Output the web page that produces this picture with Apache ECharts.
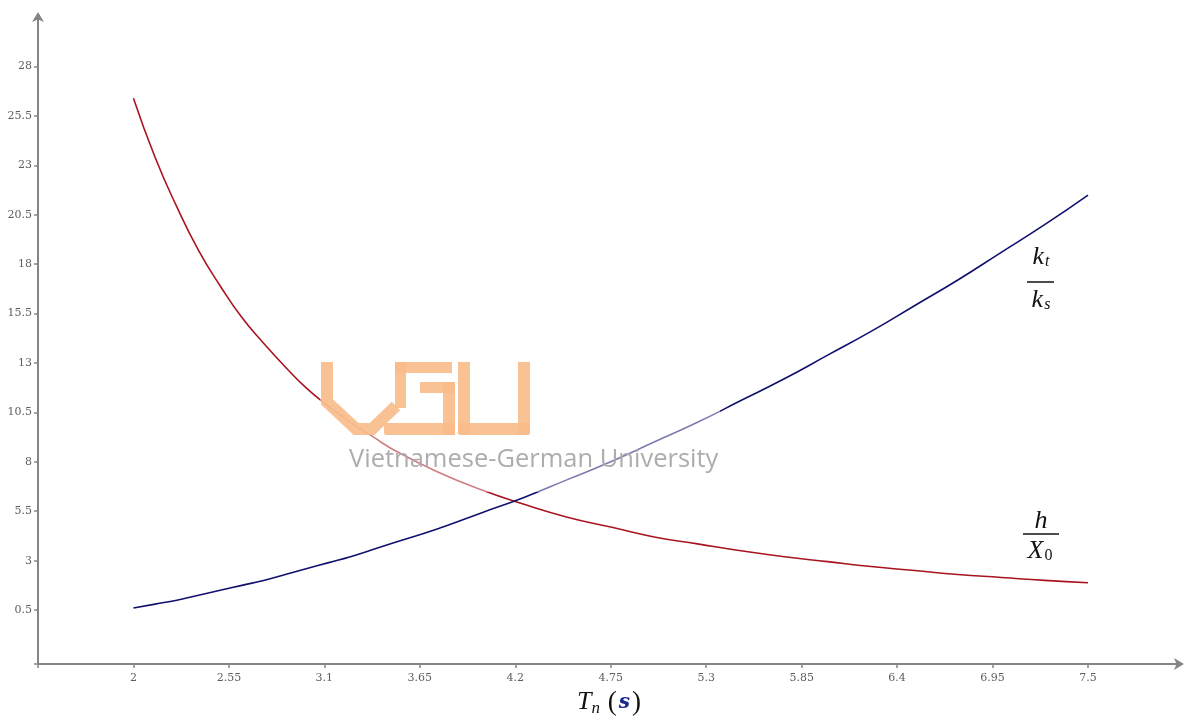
<!DOCTYPE html>
<html>
<head>
<meta charset="utf-8">
<script src="https://cdn.jsdelivr.net/npm/echarts@6/dist/echarts.min.js"></script>
<style>html,body{margin:0;padding:0;background:#fff}#c{width:1190px;height:717px}</style>
</head>
<body>
<div id="c"></div>
<script>
// Data
const tn   = [2, 2.125, 2.25, 2.375, 2.5, 2.625, 2.75, 2.875, 3, 3.125, 3.25, 3.375, 3.5, 3.75, 4, 4.25, 4.5, 4.75, 5, 5.25, 5.5, 5.75, 6, 6.25, 6.5, 6.75, 7, 7.25, 7.5];
const hX0  = [26.4, 23.4, 20.9, 18.7, 16.9, 15.3, 14.0, 12.8, 11.7, 10.8, 10.0, 9.3, 8.6, 7.5, 6.6, 5.85, 5.2, 4.7, 4.2, 3.85, 3.5, 3.2, 2.95, 2.7, 2.5, 2.3, 2.15, 2.0, 1.88];
const ktks = [0.6, 0.8, 1.0, 1.25, 1.5, 1.75, 2.0, 2.3, 2.6, 2.9, 3.2, 3.55, 3.9, 4.6, 5.4, 6.2, 7.1, 8.0, 9.0, 10.0, 11.1, 12.2, 13.4, 14.6, 15.9, 17.2, 18.6, 20.0, 21.5];
const xTicks = [2, 2.55, 3.1, 3.65, 4.2, 4.75, 5.3, 5.85, 6.4, 6.95, 7.5];
const yTicks = [0.5, 3, 5.5, 8, 10.5, 13, 15.5, 18, 20.5, 23, 25.5, 28];

const X_MIN = 1.45, X_MAX = 8.03, Y_MIN = -2.23, Y_MAX = 30.56;

const chart = echarts.init(document.getElementById('c'));
const axisColor = '#858585';
const labelStyle = {color: '#5e5e5e', fontFamily: 'DejaVu Serif', fontSize: 11};
const orange = '#f8bb88';

function rect(x, y, w, h, r) {
  return {type: 'rect', z: 101, shape: {x: x, y: y, width: w, height: h, r: r || 0}, style: {fill: orange, opacity: 0.9}, silent: true};
}

chart.setOption({
  animation: false,
  backgroundColor: '#fff',
  grid: {left: 38, right: 10, top: 16, bottom: 53, containLabel: false, outerBoundsMode: 'none'},
  xAxis: {
    type: 'value', min: X_MIN, max: X_MAX,
    splitLine: {show: false},
    axisLine: {onZero: false, lineStyle: {color: axisColor, width: 2}, symbol: ['none', 'arrow'], symbolSize: [9, 10], symbolOffset: [0, 4]},
    axisTick: {customValues: [X_MIN].concat(xTicks), length: 4, lineStyle: {color: axisColor, width: 1.5}},
    axisLabel: Object.assign({customValues: xTicks, margin: 9}, labelStyle),
    name: '{t|T}{n|n}{sp|  }{p|(}{s|s}{p|)}',
    nameLocation: 'middle',
    nameGap: 24,
    nameTextStyle: {
      rich: {
        t: {fontFamily: 'Liberation Serif', fontStyle: 'italic', fontSize: 26, color: '#111'},
        n: {fontFamily: 'Liberation Serif', fontStyle: 'italic', fontSize: 17, color: '#111', padding: [12, 0, 0, 0]},
        sp: {fontSize: 14},
        p: {fontFamily: 'Liberation Serif', fontSize: 27, color: '#111'},
        s: {fontFamily: 'DejaVu Serif', fontStyle: 'italic', fontWeight: 'bold', fontSize: 20, color: '#1a2a8c', padding: [0, 2, 0, 2]}
      }
    }
  },
  yAxis: {
    type: 'value', min: Y_MIN, max: Y_MAX,
    splitLine: {show: false},
    axisLine: {onZero: false, lineStyle: {color: axisColor, width: 2}, symbol: ['none', 'arrow'], symbolSize: [9, 10], symbolOffset: [0, 4]},
    axisTick: {customValues: [Y_MIN].concat(yTicks), length: 4, lineStyle: {color: axisColor, width: 1.5}},
    axisLabel: Object.assign({customValues: yTicks, margin: 6}, labelStyle)
  },
  series: [
    {type: 'line', name: 'h/X0', smooth: true, showSymbol: false, z: 3,
     lineStyle: {color: '#a8141f', width: 1.6},
     data: tn.map((t, i) => [t, hX0[i]])},
    {type: 'line', name: 'kt/ks', smooth: true, showSymbol: false, z: 3,
     lineStyle: {color: '#10106e', width: 1.6},
     data: tn.map((t, i) => [t, ktks[i]])}
  ],
  graphic: [
    // watermark background veil
    {type: 'rect', z: 100, silent: true, shape: {x: 320, y: 360, width: 400, height: 132}, style: {fill: '#fff', opacity: 0.45}},
    // V
    {type: 'polyline', z: 101, silent: true, shape: {points: [[327, 362], [327, 402], [356, 429], [372, 429], [396, 406]]}, style: {stroke: orange, lineWidth: 12, opacity: 0.9, fill: null, lineJoin: 'miter'}},
    // G
    rect(395, 362, 57, 11), rect(395, 362, 11, 46), rect(384, 423, 71, 12, 2), rect(443, 382, 12, 53), rect(420, 382, 35, 11),
    // U
    rect(458, 362, 12, 73, [0, 0, 0, 3]), rect(518, 362, 12, 73, [0, 0, 3, 0]), rect(458, 423, 72, 12, [0, 0, 3, 3]),
    // watermark text
    {type: 'text', z: 102, silent: true, left: 349, top: 447,
     style: {text: 'Vietnamese-German University', fill: '#a9a9a9', opacity: 0.95, font: '25.5px "Open Sans"'}},
    // kt / ks label
    {type: 'text', z: 110, silent: true, x: 1041, y: 270,
     style: {text: '{i|k}{b|t}', textAlign: 'center', textVerticalAlign: 'bottom',
             rich: {i: {fontFamily: 'Liberation Serif', fontStyle: 'italic', fontSize: 26, fill: '#111'},
                    b: {fontFamily: 'Liberation Serif', fontStyle: 'italic', fontSize: 16, fill: '#111', padding: [10, 0, 0, 1]}}}},
    {type: 'line', z: 110, silent: true, shape: {x1: 1027, y1: 282, x2: 1054, y2: 282}, style: {stroke: '#111', lineWidth: 1.5}},
    {type: 'text', z: 110, silent: true, x: 1041, y: 287,
     style: {text: '{i|k}{b|s}', textAlign: 'center', textVerticalAlign: 'top',
             rich: {i: {fontFamily: 'Liberation Serif', fontStyle: 'italic', fontSize: 26, fill: '#111'},
                    b: {fontFamily: 'Liberation Serif', fontStyle: 'italic', fontSize: 16, fill: '#111', padding: [10, 0, 0, 1]}}}},
    // h / X0 label
    {type: 'text', z: 110, silent: true, x: 1041, y: 534,
     style: {text: 'h', textAlign: 'center', textVerticalAlign: 'bottom',
             font: 'italic 26px "Liberation Serif"', fill: '#111'}},
    {type: 'line', z: 110, silent: true, shape: {x1: 1023, y1: 534, x2: 1059, y2: 534}, style: {stroke: '#111', lineWidth: 1.5}},
    {type: 'text', z: 110, silent: true, x: 1040, y: 538,
     style: {text: '{i|X}{b|0}', textAlign: 'center', textVerticalAlign: 'top',
             rich: {i: {fontFamily: 'Liberation Serif', fontStyle: 'italic', fontSize: 26, fill: '#111'},
                    b: {fontFamily: 'Liberation Serif', fontSize: 16, fill: '#111', padding: [10, 0, 0, 1]}}}}
  ]
});
</script>
</body>
</html>
